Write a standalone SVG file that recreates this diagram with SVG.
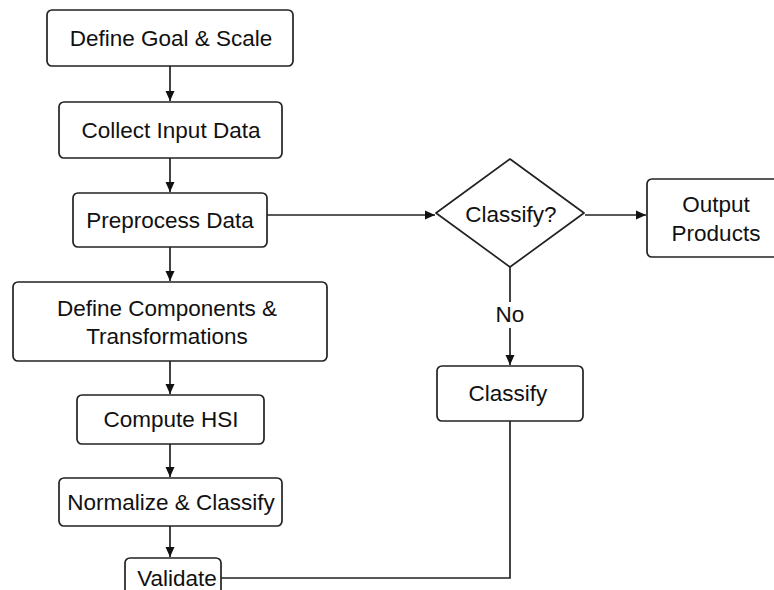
<svg xmlns="http://www.w3.org/2000/svg" width="774" height="590" viewBox="0 0 774 590">
<style>
.box{fill:#fff;stroke:#222;stroke-width:1.7}
.lbl{font-family:"Liberation Sans",Arial,sans-serif;font-size:22.5px;fill:#111;text-anchor:middle}
.edge{fill:none;stroke:#222;stroke-width:1.7}
</style>
<defs>
<marker id="arr" viewBox="0 0 10 10" refX="10" refY="5" markerWidth="10" markerHeight="10" markerUnits="userSpaceOnUse" orient="auto">
<path d="M0,0.5 L10,5 L0,9.5 Z" fill="#111"/>
</marker>
</defs>
<rect width="774" height="590" fill="#fff"/>
<g id="connectors">
<line class="edge" x1="170" y1="66" x2="170" y2="101" marker-end="url(#arr)"/>
<line class="edge" x1="170" y1="158" x2="170" y2="192" marker-end="url(#arr)"/>
<line class="edge" x1="170" y1="247" x2="170" y2="281" marker-end="url(#arr)"/>
<line class="edge" x1="170" y1="361" x2="170" y2="394" marker-end="url(#arr)"/>
<line class="edge" x1="170" y1="444" x2="170" y2="477" marker-end="url(#arr)"/>
<line class="edge" x1="170" y1="526" x2="170" y2="557" marker-end="url(#arr)"/>
<line class="edge" x1="267" y1="215" x2="435" y2="215" marker-end="url(#arr)"/>
<line class="edge" x1="585" y1="215" x2="646" y2="215" marker-end="url(#arr)"/>
<line class="edge" x1="510" y1="267" x2="510" y2="302"/>
<line class="edge" x1="510" y1="328" x2="510" y2="365" marker-end="url(#arr)"/>
<polyline class="edge" points="221,578 510,578 510,421"/>
<text class="lbl" x="510" y="322">No</text>
</g>
<g id="n1"><rect class="box" x="47" y="10" width="246" height="56" rx="5"/><text class="lbl" x="171" y="46">Define Goal &amp; Scale</text></g>
<g id="n2"><rect class="box" x="59" y="102" width="223" height="56" rx="5"/><text class="lbl" x="171" y="138">Collect Input Data</text></g>
<g id="n3"><rect class="box" x="73" y="193" width="194" height="54" rx="5"/><text class="lbl" x="170" y="228">Preprocess Data</text></g>
<g id="n4"><rect class="box" x="13" y="282" width="314" height="79" rx="5"/><text class="lbl" x="167" y="316">Define Components &amp;</text><text class="lbl" x="167" y="344">Transformations</text></g>
<g id="n5"><rect class="box" x="77" y="395" width="187" height="49" rx="5"/><text class="lbl" x="171" y="427">Compute HSI</text></g>
<g id="n6"><rect class="box" x="59" y="478" width="223" height="48" rx="5"/><text class="lbl" x="171" y="510">Normalize &amp; Classify</text></g>
<g id="n7"><rect class="box" x="125" y="558" width="96" height="42" rx="5"/><text class="lbl" x="177" y="586">Validate</text></g>
<g id="d1"><polygon class="box" stroke-linejoin="round" points="510,159 584,213 510,267 436,213"/><text class="lbl" x="511" y="222">Classify?</text></g>
<g id="n8"><rect class="box" x="647" y="179" width="140" height="78" rx="5"/><text class="lbl" x="716" y="212">Output</text><text class="lbl" x="716" y="241">Products</text></g>
<g id="n9"><rect class="box" x="437" y="366" width="146" height="55" rx="5"/><text class="lbl" x="508" y="401">Classify</text></g>
</svg>
